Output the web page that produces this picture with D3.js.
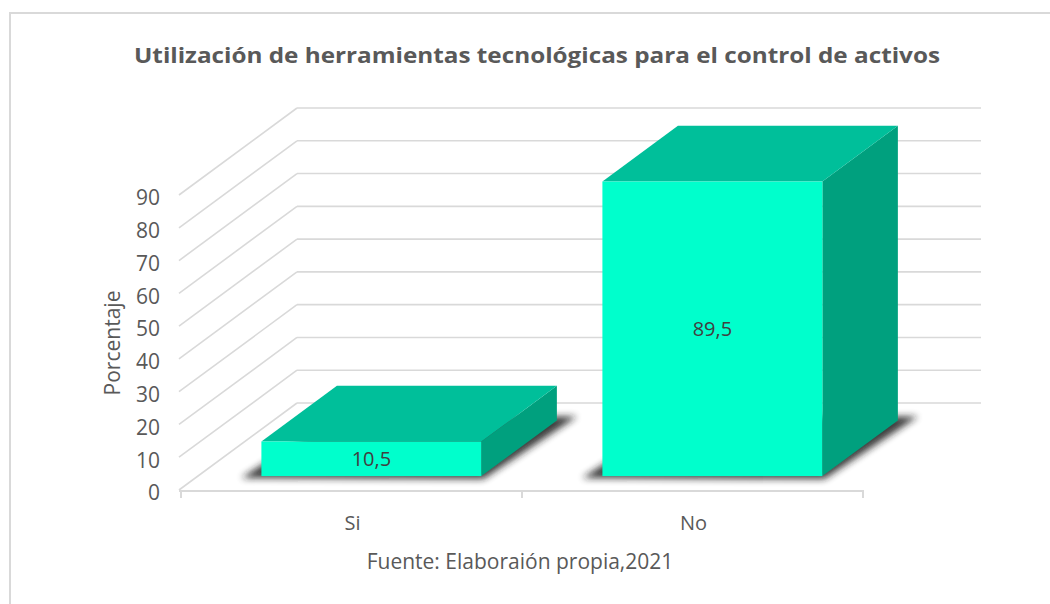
<!DOCTYPE html>
<html>
<head>
<meta charset="utf-8">
<script src="https://cdn.jsdelivr.net/npm/d3@7"></script>
<style>
  html, body { margin: 0; padding: 0; background: #fff; }
  svg { display: block; }
  text { font-family: "Open Sans", "Liberation Sans", Arial, sans-serif; }
</style>
</head>
<body>
<svg id="chart" width="1050" height="604"></svg>
<script>
// ---- data ----
const categories = ["Si", "No"];
const values = [10.5, 89.5];
const valueLabels = ["10,5", "89,5"];
const yTicks = [0, 10, 20, 30, 40, 50, 60, 70, 80, 90];
const title = "Utilización de herramientas tecnológicas para el control de activos";
const yTitle = "Porcentaje";
const source = "Fuente: Elaboraión propia,2021";

// ---- layout ----
const svg = d3.select("#chart");
const x = d3.scaleBand().domain(categories).range([181, 863]).padding(0);
const y = d3.scaleLinear().domain([0, 90]).range([490, 195]);
const DX = 118, DY = -87;          // full depth vector
const d0 = 0.16, d1 = 0.80;        // bar depth span (fraction)
const barFrac = 0.645;

const grid = "#D9D9D9";
const textCol = "#595959";

// outer border
svg.append("rect").attr("x", 10).attr("y", 13).attr("width", 1100).attr("height", 700)
  .attr("fill", "none").attr("stroke", grid).attr("stroke-width", 2);

// title
svg.append("text").attr("x", 537).attr("y", 63).attr("text-anchor", "middle")
  .attr("font-size", 22).attr("font-weight", "bold").attr("fill", textCol)
  .attr("textLength", 806).attr("lengthAdjust", "spacingAndGlyphs")
  .text(title);

// gridlines: back wall + left wall diagonals
const gl = svg.append("g").attr("stroke", grid).attr("stroke-width", 1.6).attr("fill", "none");
yTicks.forEach(v => {
  const yf = y(v);
  gl.append("line").attr("x1", x.range()[0] - 2).attr("y1", yf)
    .attr("x2", x.range()[0] - 2 + DX).attr("y2", yf + DY);
  gl.append("line").attr("x1", x.range()[0] - 2 + DX).attr("y1", yf + DY)
    .attr("x2", x.range()[1] + DX).attr("y2", yf + DY);
});

// front floor axis line + ticks
const ax = svg.append("g").attr("stroke", grid).attr("stroke-width", 2);
ax.append("line").attr("x1", x.range()[0] - 2).attr("x2", x.range()[1]).attr("y1", y(0) + 1).attr("y2", y(0) + 1);
const tickXs = [x.range()[0]].concat(categories.map(c => x(c) + x.bandwidth()));
tickXs.forEach(tx => {
  ax.append("line").attr("x1", tx).attr("x2", tx).attr("y1", y(0)).attr("y2", y(0) + 8);
});

// y tick labels
svg.append("g").selectAll("text").data(yTicks).join("text")
  .attr("x", 160).attr("y", d => y(d) + 3).attr("dy", "0.35em")
  .attr("text-anchor", "end").attr("font-size", 21).attr("fill", textCol)
  .text(d => d);

// y title
svg.append("text").attr("transform", "translate(120,343) rotate(-90)")
  .attr("text-anchor", "middle").attr("font-size", 21).attr("fill", textCol)
  .text(yTitle);

// x labels
svg.append("g").selectAll("text").data(categories).join("text")
  .attr("x", d => x(d) + x.bandwidth() / 2 + 1).attr("y", 530)
  .attr("text-anchor", "middle").attr("font-size", 20).attr("fill", textCol)
  .text(d => d);

// source
svg.append("text").attr("x", 520).attr("y", 569).attr("text-anchor", "middle")
  .attr("font-size", 21).attr("fill", textCol).text(source);

// shadow filter
const defs = svg.append("defs");
defs.append("filter").attr("id", "blur").attr("x", "-20%").attr("y", "-50%").attr("width", "140%").attr("height", "200%")
  .append("feGaussianBlur").attr("stdDeviation", 3.5);

// bars
const bars = svg.append("g");
categories.forEach((c, i) => {
  const v = values[i];
  const w = x.bandwidth() * barFrac;
  const cx = x(c) + x.bandwidth() / 2;
  const fx0 = cx - w / 2 + d0 * DX + 1, fx1 = fx0 + w;
  const fyB = y(0) + d0 * DY;
  const fyT = fyB - (y(0) - y(v)) * 1.004;
  const ddx = (d1 - d0) * DX, ddy = (d1 - d0) * DY;
  const P = pts => pts.map(p => p.join(",")).join(" ");

  // floor shadow
  bars.append("polygon")
    .attr("points", P([[fx0 - 20, fyB + 2], [fx1 + 2, fyB + 3], [fx1 + ddx + 20, fyB + ddy - 4], [fx0 + ddx, fyB + ddy - 4]]))
    .attr("fill", "#1a1a1a").attr("opacity", 0.85).attr("filter", "url(#blur)");

  // side face
  bars.append("polygon")
    .attr("points", P([[fx1, fyB], [fx1 + ddx, fyB + ddy], [fx1 + ddx, fyT + ddy], [fx1, fyT]]))
    .attr("fill", "#00A07E");
  // top face
  bars.append("polygon")
    .attr("points", P([[fx0, fyT], [fx1, fyT], [fx1 + ddx, fyT + ddy], [fx0 + ddx, fyT + ddy]]))
    .attr("fill", "#00BF9A");
  // front face
  bars.append("rect").attr("x", fx0).attr("y", fyT).attr("width", w).attr("height", fyB - fyT)
    .attr("fill", "#00FFCC");
  // value label
  bars.append("text").attr("x", (fx0 + fx1) / 2).attr("y", (fyT + fyB) / 2).attr("dy", "0.35em")
    .attr("text-anchor", "middle").attr("font-size", 20).attr("fill", "#404040")
    .text(valueLabels[i]);
});
</script>
</body>
</html>
